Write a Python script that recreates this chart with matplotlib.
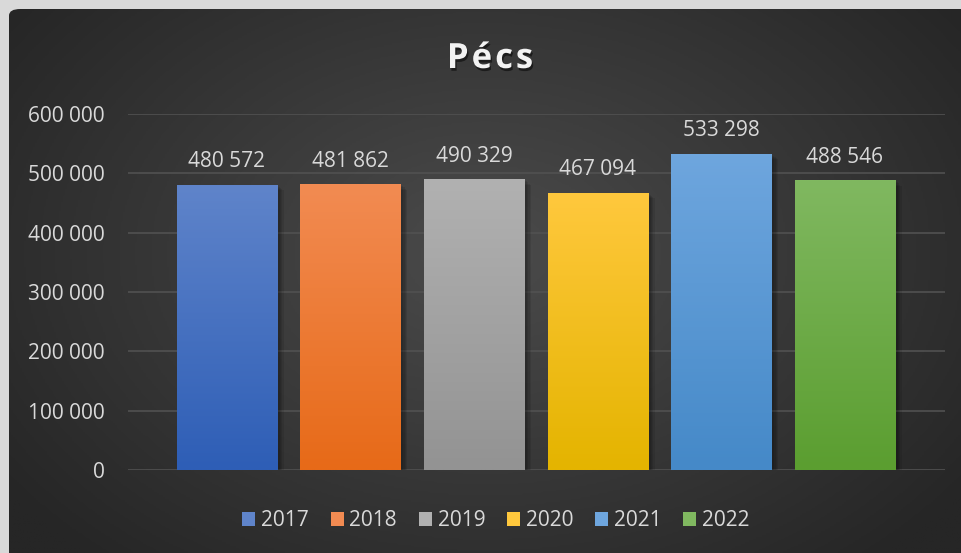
import numpy as np
import matplotlib
matplotlib.use("Agg")
import matplotlib.pyplot as plt
import matplotlib.patheffects as pe
from matplotlib.colors import LinearSegmentedColormap
from matplotlib.patches import FancyBboxPatch, Patch

plt.rcParams['font.family'] = ['Open Sans', 'DejaVu Sans']

years = ['2017', '2018', '2019', '2020', '2021', '2022']
values = [480572, 481862, 490329, 467094, 533298, 488546]
top_colors = ['#5f84ca', '#f28b52', '#b1b1b1', '#ffc83d', '#6ea6de', '#80b860']
bottom_colors = ['#2e5eb6', '#e76a18', '#939393', '#e4b400', '#4589c8', '#5b9e30']
y_ticks = [0, 100000, 200000, 300000, 400000, 500000, 600000]
title = 'Pécs'

TXT = '#d9d9d9'

def fmt(v):
    return f"{v:,}".replace(",", " ")

fig = plt.figure(figsize=(9.62, 5.53), dpi=100)
fig.patch.set_facecolor('#d9d9d9')

# dark panel with radial gradient
bg = fig.add_axes([9/962, 0, 953/962, 544/553], zorder=0)
bg.set_axis_off()
yy, xx = np.mgrid[0:1:300j, 0:1:500j]
d = np.sqrt(((xx - 0.5) / 0.62) ** 2 + ((yy - 0.45) / 0.75) ** 2)
d = np.clip(d, 0, 1)
bgmap = LinearSegmentedColormap.from_list('bg', ['#4b4b4b', '#262626'])
im = bg.imshow(d, cmap=bgmap, extent=[0, 1, 0, 1], aspect='auto', origin='upper', vmin=0, vmax=1)
clip = FancyBboxPatch((0, -0.2), 1.2, 1.2, boxstyle="round,pad=0,rounding_size=0.012",
                      transform=bg.transAxes, facecolor='none', edgecolor='none')
bg.add_patch(clip)
im.set_clip_path(clip)
bg.set_xlim(0, 1)
bg.set_ylim(0, 1)

# main axes
x = np.arange(len(years))
ax = fig.add_axes([128/962, 83/553, 817/962, 356/553], zorder=1)
ax.patch.set_alpha(0)
for s in ax.spines.values():
    s.set_visible(False)
ax.set_yticks(y_ticks)
ax.set_yticklabels([fmt(t) for t in y_ticks])
ax.tick_params(axis='y', length=0, pad=17, labelsize=15, labelcolor=TXT)
ax.set_xticks([])
ax.grid(axis='y', color='#515151', lw=1.2)
ax.set_axisbelow(True)

# soft shadow: a few stacked translucent copies
shadow = [pe.SimplePatchShadow(offset=(k, -k * 0.8), shadow_rgbFace='black', alpha=0.09)
          for k in (5, 4, 3, 2)]
bars = ax.bar(x, values, width=0.81, color=bottom_colors, zorder=2,
              path_effects=shadow + [pe.Normal()])
for b, ct, cb in zip(bars, top_colors, bottom_colors):
    cmap = LinearSegmentedColormap.from_list('g', [cb, ct])
    x0, w, h = b.get_x(), b.get_width(), b.get_height()
    grad = np.linspace(1, 0, 100).reshape(-1, 1)
    gi = ax.imshow(grad, cmap=cmap, extent=[x0, x0 + w, 0, h], aspect='auto', zorder=3, vmin=0, vmax=1)
    gi.set_clip_path(b)

ax.bar_label(bars, labels=[fmt(v) for v in values], padding=9, fontsize=15, color=TXT)
ax.set_xlim(-0.80, 5.81)
ax.set_ylim(0, 600000)

# title with letter spacing, drawn char by char
renderer = fig.canvas.get_renderer()
tkw = dict(fontsize=25, fontweight='bold', color='#f2f2f2', va='baseline', ha='left',
           path_effects=[pe.withSimplePatchShadow(offset=(1, -2), shadow_rgbFace='black', alpha=0.5)])
spacing = 3
widths = []
for ch in title:
    t = fig.text(0, 0, ch, **tkw)
    widths.append(t.get_window_extent(renderer).width)
    t.remove()
total = sum(widths) + spacing * (len(title) - 1)
xpos = 490 - total / 2
for ch, w in zip(title, widths):
    fig.text(xpos / 962, 1 - 68/553, ch, **tkw)
    xpos += w + spacing

handles = [Patch(facecolor=c, edgecolor='none') for c in top_colors]
fig.legend(handles, years, loc='center', bbox_to_anchor=(496/962, 1 - 521/553), ncol=6,
           frameon=False, fontsize=15, labelcolor=TXT, handlelength=0.62, handleheight=0.62,
           handletextpad=0.28, columnspacing=1.05)

fig.savefig('out.png', dpi=100, facecolor=fig.get_facecolor())
